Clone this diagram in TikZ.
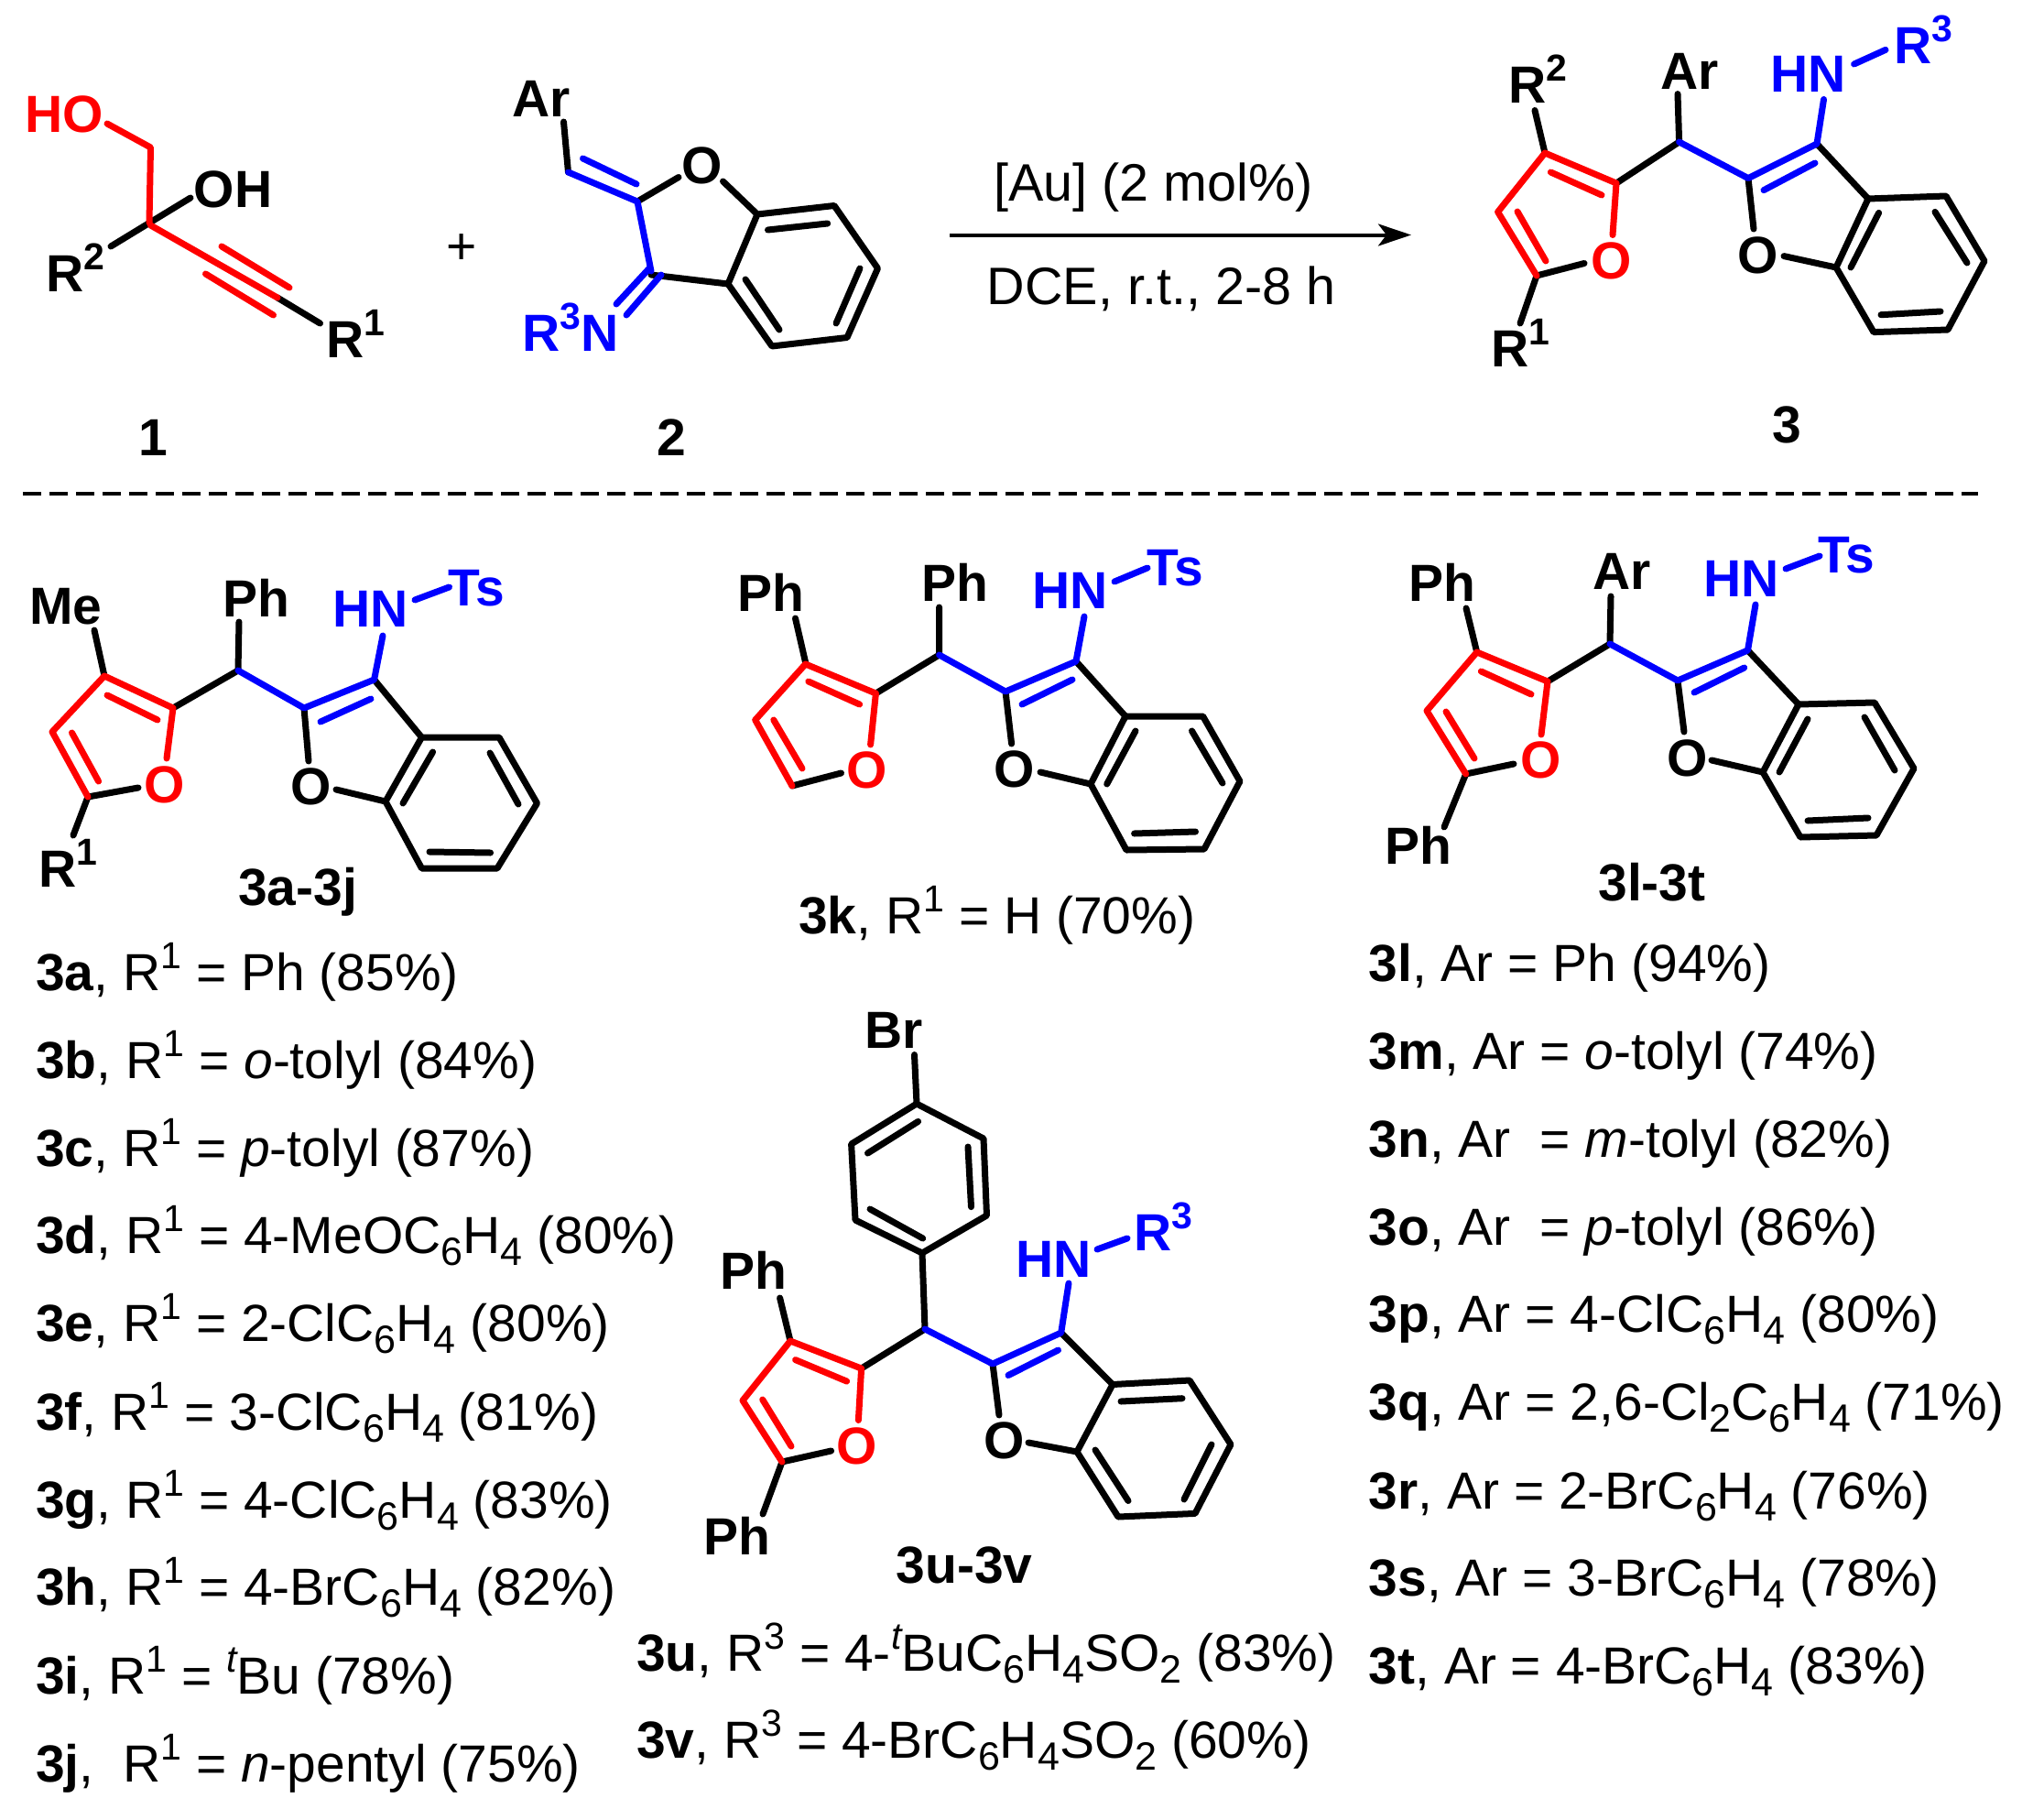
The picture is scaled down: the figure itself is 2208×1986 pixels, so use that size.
\documentclass[tikz,border=0pt]{standalone}
\usepackage{fontspec}
\setmainfont{Liberation Sans}
\usetikzlibrary{arrows.meta}
\definecolor{cRed}{RGB}{255,0,0}
\definecolor{cBlue}{RGB}{0,0,255}
\newcommand{\Up}[1]{\raisebox{24pt}{\fontsize{41}{42}\selectfont #1}}
\newcommand{\Dn}[1]{\raisebox{-13pt}{\fontsize{43}{44}\selectfont #1}}
\newcommand{\UpI}[1]{\raisebox{24pt}{\fontsize{41}{42}\selectfont\itshape #1}}
\tikzset{
 bond/.style={line width=7pt,line cap=round,line join=round},
 bk/.style={bond,black},
 rd/.style={bond,cRed},
 bl/.style={bond,cBlue},
 lb/.style={anchor=base west,inner sep=0pt,font=\bfseries\fontsize{57}{60}\selectfont},
 cl/.style={anchor=base,inner sep=0pt,font=\bfseries\fontsize{57}{60}\selectfont},
 tx/.style={anchor=base west,inner sep=0pt,font=\fontsize{57}{60}\selectfont},
 tc/.style={anchor=base,inner sep=0pt,font=\fontsize{57.5}{60}\selectfont},
}
\begin{document}
\begin{tikzpicture}[x=1pt,y=-1pt]
\useasboundingbox (0,0) rectangle (2208,1986);
\fill[white] (0,0) rectangle (2208,1986);
% ---------- compound 1
\draw[bk] (121,269)--(208,216);
\draw[bk] (303,325)--(349.5,353);
\draw[rd] (117,135)--(164.5,161)--(163,243);
\draw[rd] (164.5,246)--(303,325);
\draw[rd] (242,269)--(316,314);
\draw[rd] (224.5,299)--(298.5,344);
\node[lb,text=cRed] (ho) at (27,144) {HO};
\node[lb] (oh) at (211.5,226) {OH};
\node[lb] (r2a) at (50,318) {R\Up{2}};
\node[lb] (r1a) at (356,390) {R\Up{1}};
\node[tc,font=\fontsize{57}{60}\selectfont] (plus) at (504,288) {+};
\node[cl] (n1) at (167,497) {1};
% ---------- compound 2
\draw[bk] (615.5,133)--(620.5,188);
\draw[bk] (696,220)--(741,193.5);
\draw[bk] (789.5,198)--(827,234);
\draw[bk] (827,234)--(911,224.5)--(958.5,293)--(925,368.5)--(843,378)--(795,310)--cycle;
\draw[bk] (838.5,251)--(903.7,244);
\draw[bk] (939,293)--(913,353);
\draw[bk] (851,360)--(814,305);
\draw[bk] (711,300)--(795,310);
\draw[bl] (620.5,188)--(696,220)--(711,296);
\draw[bl] (636.5,173)--(695,201);
\draw[bl] (709,293)--(673,332);
\draw[bl] (722,300)--(684,344);
\node[lb] (ar2) at (559,127) {Ar};
\node[lb] (o2) at (744.5,200) {O};
\node[lb,text=cBlue] (r3n) at (570,383) {R\Up{3}N};
\node[cl] (n2) at (733,497) {2};
% ---------- arrow
\coordinate (as) at (1037,256.5);
\coordinate (ae) at (1541,256.5);
\draw[line width=4pt,-{Stealth[length=36pt,width=24pt,inset=9pt]}] (as)--(ae);
\node[tc] (cat) at (1259.5,219) {[Au] (2 mol\%)};
\node[tc] (sol) at (1268,332) {DCE, r.t., 2-8 h};
% ---------- compound 3
\draw[bk] (1676,120.5)--(1687,167);
\draw[bk] (1678,301)--(1730,287.5);
\draw[bk] (1678,301)--(1660,353);
\draw[bk] (1765,200)--(1833.6,155)--(1832,102.6);
\draw[bk] (1909,194.6)--(1915,250);
\draw[bk] (1948,279.6)--(2005,292);
\draw[bk] (1984,157)--(2040,217);
\draw[bk] (2040,217)--(2125,214)--(2167,285)--(2127,360)--(2046,362.6)--(2005,292)--cycle;
\draw[bk] (2051.6,232.4)--(2021,292);
\draw[bk] (2113,231.4)--(2148,287);
\draw[bk] (2054,343.7)--(2119,340);
\draw[rd] (1761,256.5)--(1765,200)--(1687,167)--(1635.6,231.4)--(1678,301);
\draw[rd] (1693.4,188)--(1749,213);
\draw[rd] (1657,231)--(1688,285);
\draw[bl] (1833.6,155)--(1909,194.6)--(1984,157)--(1991.5,108.5);
\draw[bl] (1926,207.6)--(1982,178);
\draw[bl] (2024.6,70)--(2059,54.4);
\node[lb] (r23) at (1647,112) {R\Up{2}};
\node[lb,text=cRed] (o3r) at (1737.5,304) {O};
\node[lb] (r13) at (1628,400) {R\Up{1}};
\node[lb] (ar3) at (1813,97) {Ar};
\node[lb] (o3) at (1897.5,298) {O};
\node[lb,text=cBlue] (hn3) at (1933.6,100) {HN};
\node[lb,text=cBlue] (r33) at (2068,69) {R\Up{3}};
\node[cl] (n3) at (1951.5,483) {3};
% ---------- divider
\coordinate (d1) at (25,539);
\coordinate (d2) at (2160,539);
\draw[line width=3.5pt,dash pattern=on 20pt off 9pt] (d1)--(d2);
% ---------- 3a-3j
\draw[bk] (103,688)--(114,738);
\draw[bk] (96,870)--(151,860);
\draw[bk] (96,870)--(80,912);
\draw[bk] (189,773)--(260,732)--(261,679);
\draw[bk] (332,773)--(337,831);
\draw[bk] (367,862)--(421,875);
\draw[bk] (408.6,742)--(460.5,805);
\draw[bk] (460.5,805)--(545,805)--(586.5,877)--(543,948)--(460.5,948)--(421,875)--cycle;
\draw[bk] (472.6,821)--(440,877);
\draw[bk] (535,822)--(566,878);
\draw[bk] (469,930)--(535.6,931);
\draw[rd] (182,828)--(189,773)--(114,738)--(57,799)--(96,870);
\draw[rd] (117,759)--(172,786);
\draw[rd] (78.5,800)--(107.6,853);
\draw[bl] (260,732)--(332,773)--(408.6,742)--(418,694);
\draw[bl] (350,788)--(405,763);
\draw[bl] (453,655)--(490.5,641);
\node[lb] (me) at (32,681) {Me};
\node[lb] (pha) at (243,673) {Ph};
\node[lb,text=cBlue] (hna) at (363,684) {HN};
\node[lb,text=cBlue] (tsa) at (489,661) {Ts};
\node[lb,text=cRed] (ora) at (157.5,876) {O};
\node[lb] (oa) at (317.5,878) {O};
\node[lb] (r1b) at (42,968) {R\Up{1}};
\node[cl] (la) at (325,988) {3a-3j};
% list 1
\node[tx] (l1) at (39,1081) {\textbf{3a}, R\Up{1} = Ph (85\%)};
\node[tx] (l2) at (39,1177) {\textbf{3b}, R\Up{1} = \textit{o}-tolyl (84\%)};
\node[tx] (l3) at (39,1273) {\textbf{3c}, R\Up{1} = \textit{p}-tolyl (87\%)};
\node[tx] (l4) at (39,1368) {\textbf{3d}, R\Up{1} = 4-MeOC\Dn{6}H\Dn{4} (80\%)};
\node[tx] (l5) at (39,1464) {\textbf{3e}, R\Up{1} = 2-ClC\Dn{6}H\Dn{4} (80\%)};
\node[tx] (l6) at (39,1561) {\textbf{3f}, R\Up{1} = 3-ClC\Dn{6}H\Dn{4} (81\%)};
\node[tx] (l7) at (39,1657) {\textbf{3g}, R\Up{1} = 4-ClC\Dn{6}H\Dn{4} (83\%)};
\node[tx] (l8) at (39,1752) {\textbf{3h}, R\Up{1} = 4-BrC\Dn{6}H\Dn{4} (82\%)};
\node[tx] (l9) at (39,1849) {\textbf{3i}, R\Up{1} = \UpI{t}Bu (78\%)};
\node[tx] (l10) at (39,1945) {\textbf{3j},\ \ R\Up{1} = \textit{n}-pentyl (75\%)};
% ---------- 3k
\draw[bk] (868.5,675)--(880,725);
\draw[bk] (865,858)--(918.5,844);
\draw[bk] (956.4,757)--(1025.6,715)--(1025.6,663);
\draw[bk] (1098,755)--(1104.6,812);
\draw[bk] (1136,843)--(1191,856);
\draw[bk] (1175,722)--(1229,782);
\draw[bk] (1229,782)--(1313.6,782)--(1354,853)--(1315,927)--(1230,928)--(1191,856)--cycle;
\draw[bk] (1240,798)--(1208.7,856);
\draw[bk] (1301.5,798)--(1335,855);
\draw[bk] (1238.6,910)--(1305.5,908);
\draw[rd] (950.6,813)--(956.4,757)--(879.6,725)--(824.7,786)--(865,858);
\draw[rd] (882.8,744)--(938.6,769);
\draw[rd] (844.8,786)--(876,839);
\draw[bl] (1025.6,715)--(1098,755)--(1175,722)--(1184,673);
\draw[bl] (1116,769)--(1171,742);
\draw[bl] (1217,635)--(1253,620);
\node[lb] (phk1) at (805,667) {Ph};
\node[lb] (phk2) at (1006,656) {Ph};
\node[lb,text=cBlue] (hnk) at (1127,664) {HN};
\node[lb,text=cBlue] (tsk) at (1252,639) {Ts};
\node[lb,text=cRed] (ork) at (924.5,860) {O};
\node[lb] (ok) at (1085.5,859) {O};
\node[tx] (lk) at (872,1019) {\textbf{3k}, R\Up{1} = H (70\%)};
% ---------- 3l-3t
\draw[bk] (1601,664)--(1612.7,712);
\draw[bk] (1600.7,845)--(1653,834);
\draw[bk] (1600.7,845)--(1577,903);
\draw[bk] (1690,744)--(1758,703)--(1759,651);
\draw[bk] (1832,743)--(1839,799);
\draw[bk] (1869,830)--(1925,843);
\draw[bk] (1908.5,710)--(1964,769);
\draw[bk] (1964,769)--(2047,767)--(2090,839)--(2049,912)--(1966,914)--(1925,843)--cycle;
\draw[bk] (1974,785)--(1943,843);
\draw[bk] (2036,783)--(2069,841);
\draw[bk] (1974,896)--(2040,893);
\draw[rd] (1683,802)--(1690,744)--(1612.7,712)--(1558,776)--(1600.7,845);
\draw[rd] (1617.4,733)--(1672,758);
\draw[rd] (1579,777)--(1610,828);
\draw[bl] (1758,703)--(1832,743)--(1908.5,710)--(1917,660);
\draw[bl] (1850,756)--(1904.7,729);
\draw[bl] (1950,621)--(1987,607);
\node[lb] (phl1) at (1538,656) {Ph};
\node[lb] (phl2) at (1512,943) {Ph};
\node[lb] (arl) at (1739,643) {Ar};
\node[lb,text=cBlue] (hnl) at (1860,651) {HN};
\node[lb,text=cBlue] (tsl) at (1985,625) {Ts};
\node[lb,text=cRed] (orl) at (1660.5,849) {O};
\node[lb] (ol) at (1820,847) {O};
\node[cl] (ll) at (1804,983) {3l-3t};
% list right
\node[tx] (r1) at (1494.5,1071) {\textbf{3l}, Ar = Ph (94\%)};
\node[tx] (r2) at (1494.5,1167) {\textbf{3m}, Ar = \textit{o}-tolyl (74\%)};
\node[tx] (r3) at (1494.5,1263) {\textbf{3n}, Ar\ \ = \textit{m}-tolyl (82\%)};
\node[tx] (r4) at (1494.5,1359) {\textbf{3o}, Ar\ \ = \textit{p}-tolyl (86\%)};
\node[tx] (r5) at (1494.5,1454) {\textbf{3p}, Ar = 4-ClC\Dn{6}H\Dn{4} (80\%)};
\node[tx] (r6) at (1494.5,1550) {\textbf{3q}, Ar = 2,6-Cl\Dn{2}C\Dn{6}H\Dn{4} (71\%)};
\node[tx] (r7) at (1494.5,1647) {\textbf{3r}, Ar = 2-BrC\Dn{6}H\Dn{4} (76\%)};
\node[tx] (r8) at (1494.5,1742) {\textbf{3s}, Ar = 3-BrC\Dn{6}H\Dn{4} (78\%)};
\node[tx] (r9) at (1494.5,1838) {\textbf{3t}, Ar = 4-BrC\Dn{6}H\Dn{4} (83\%)};
% ---------- 3u-3v
\draw[bk] (998.5,1151.5)--(1001,1205);
\draw[bk] (1001,1205)--(1074,1243)--(1077.5,1327)--(1007,1368)--(934,1332)--(929.6,1249)--cycle;
\draw[bk] (947.5,1259)--(1002.6,1224.4);
\draw[bk] (1057,1252)--(1060.5,1317.6);
\draw[bk] (950,1320)--(1007.7,1352);
\draw[bk] (1007,1368)--(1010,1451);
\draw[bk] (851.6,1417)--(863,1464);
\draw[bk] (854,1596)--(907.6,1584);
\draw[bk] (854,1596)--(833,1653);
\draw[bk] (940.6,1494)--(1010,1451);
\draw[bk] (1084,1489)--(1091,1545);
\draw[bk] (1123,1575)--(1176,1585);
\draw[bk] (1158.7,1455)--(1215,1511.5);
\draw[bk] (1215,1511.5)--(1299,1507)--(1344,1577)--(1305,1652.4)--(1221,1656)--(1176,1585)--cycle;
\draw[bk] (1224,1530)--(1291,1526.7);
\draw[bk] (1323,1577)--(1293,1637);
\draw[bk] (1196,1583)--(1232,1638.5);
\draw[rd] (937.4,1550.5)--(940.6,1494)--(863,1464)--(811,1529)--(854,1596);
\draw[rd] (868.6,1484.6)--(924.6,1508);
\draw[rd] (832.7,1528)--(864,1579);
\draw[bl] (1010,1451)--(1084,1489)--(1158.7,1455)--(1167,1401);
\draw[bl] (1101,1501.5)--(1155.5,1474);
\draw[bl] (1198,1364)--(1231,1352);
\node[lb] (bru) at (944,1144) {Br};
\node[lb] (phu1) at (786.5,1407) {Ph};
\node[lb] (phu2) at (768,1697) {Ph};
\node[lb,text=cBlue] (hnu) at (1109,1394) {HN};
\node[lb,text=cBlue] (r3u) at (1238,1365) {R\Up{3}};
\node[lb,text=cRed] (oru) at (913.5,1598) {O};
\node[lb] (ou) at (1074,1592) {O};
\node[cl] (lu) at (1053,1728) {3u-3v};
\node[tx] (u1) at (695,1824) {\textbf{3u},\ R\Up{3} = 4-\UpI{t}BuC\Dn{6}H\Dn{4}SO\Dn{2} (83\%)};
\node[tx] (u2) at (695,1919) {\textbf{3v}, R\Up{3} = 4-BrC\Dn{6}H\Dn{4}SO\Dn{2} (60\%)};
\end{tikzpicture}
\end{document}
